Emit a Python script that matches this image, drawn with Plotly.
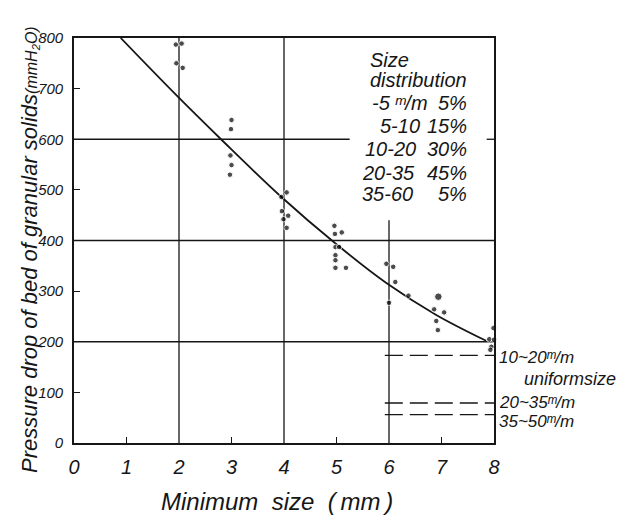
import plotly.graph_objects as go

# ---------------- data ----------------
min_size = [1.94, 2.05, 1.95, 2.07,
            3.00, 2.99, 2.98, 3.00, 2.97,
            3.95, 4.05, 3.96, 4.08, 3.99, 4.05,
            4.96, 4.97, 5.10, 4.98, 5.05, 4.98, 4.98, 4.98, 5.18,
            5.95, 6.08, 6.12, 6.00, 6.37,
            6.94, 6.86, 7.05, 6.90, 6.93,
            7.99, 7.91, 8.00, 7.95, 7.93, 8.05]
pressure_drop = [787, 789, 750, 741,
                 638, 620, 568, 549, 530,
                 486, 495, 458, 449, 442, 425,
                 429, 413, 416, 387, 387, 371, 361, 346, 346,
                 354, 348, 318, 277, 291,
                 289, 264, 258, 241, 223,
                 227, 205, 204, 190, 184, 180]

curve_x = [0.89, 1.94, 2.80, 3.94, 4.97, 5.95, 6.90, 7.85]
curve_y = [800, 688, 600, 487, 395, 316, 253, 202]

uniform_labels = ["10~20", "20~35", "35~50"]
uniform_values = [173, 79, 56]
uniform_from = 5.92
uniform_to = 8.0

dist_ranges = ["-5 \u1d50/m", "5-10", "10-20", "20-35", "35-60"]
dist_percent = ["5%", "15%", "30%", "45%", "5%"]

x_ticks = [0, 1, 2, 3, 4, 5, 6, 7, 8]
y_ticks = [0, 100, 200, 300, 400, 500, 600, 700, 800]

# guide lines (x0, y0, x1, y1)
guides = [(0, 200, 8, 200), (0, 400, 8, 400), (0, 600, 5.25, 600),
          (2, 0, 2, 800), (4, 0, 4, 800), (6, 0, 6, 440),
          (7.86, 600, 8, 600)]

# ---------------- layout helpers ----------------
# page has an 8px body margin: figure is drawn 8px down/right
OFF = 8
W, H = 641 - OFF, 518 - OFF
L, R, T, B = 74 - OFF, 494 - OFF, 38 - OFF, 443 - OFF
FONT = "Liberation Sans"
INK = "#161616"


def px(x):
    return (x - OFF - L) / (R - L)


def py(y):
    return (B - (y - OFF)) / (B - T)


fig = go.Figure()

fig.add_trace(go.Scatter(
    x=curve_x, y=curve_y, mode="lines",
    line=dict(color=INK, width=1.8, shape="spline", smoothing=1.0),
    hoverinfo="skip", showlegend=False, cliponaxis=False))

sizes = [5.5] * len(min_size)
sizes[29] = 7.5
fig.add_trace(go.Scatter(
    x=min_size, y=pressure_drop, mode="markers",
    marker=dict(color="#000000", size=sizes), showlegend=False, cliponaxis=False))

shapes = []
for (x0, y0, x1, y1) in guides:
    shapes.append(dict(type="line", xref="x", yref="y", x0=x0, y0=y0, x1=x1, y1=y1,
                       line=dict(color=INK, width=1.3), layer="below"))
for v in uniform_values:
    shapes.append(dict(type="line", xref="x", yref="y", x0=uniform_from, x1=uniform_to,
                       y0=v, y1=v, line=dict(color=INK, width=1.4, dash="18px,7px")))

annotations = []


def txt(s, x, y, size, anchor="left", angle=0):
    annotations.append(dict(text=s, x=px(x), y=py(y), xref="paper", yref="paper",
                            xanchor=anchor, yanchor="middle", showarrow=False,
                            textangle=angle,
                            font=dict(family=FONT, size=size, color=INK, style="italic")))


# size distribution table
txt("Size", 368, 60, 20)
txt("distribution", 368, 80, 20)
row_x = [370, 378, 363, 360, 360]
row_y = [103, 126, 149, 173, 194]
for i, (rng, pct) in enumerate(zip(dist_ranges, dist_percent)):
    txt(rng, row_x[i], row_y[i], 20)
    txt(pct, 469, row_y[i], 20, anchor="right")

# uniform size labels
lab_y = [357, 402, 421]
for i, lab in enumerate(uniform_labels):
    txt(lab + "\u1d50/m", 497, lab_y[i], 17)
txt("uniformsize", 522, 379, 18)

# axis titles
txt("Minimum\u00a0\u00a0size\u00a0\u00a0(\u2009mm\u2009)", 277, 501, 24, anchor="center")
txt("Pressure drop of bed of granular solids<span style='font-size:16px'>(mmH<sub>2</sub>O)</span>",
    29, 250, 22, anchor="center", angle=-90)

fig.update_layout(
    width=W, height=H,
    margin=dict(l=L, r=W - R, t=T, b=H - B),
    paper_bgcolor="white", plot_bgcolor="white",
    shapes=shapes, annotations=annotations,
    xaxis=dict(range=[0, 8], tickvals=x_ticks, ticktext=[str(v) for v in x_ticks],
               showgrid=False, zeroline=False, showline=True, mirror=True,
               linecolor=INK, linewidth=1.6, ticks="", ticklabelstandoff=5,
               tickfont=dict(family=FONT, size=20, color=INK, style="italic"),
               minor=dict(tickvals=[1, 3, 5, 7], ticks="inside", ticklen=6,
                          tickcolor=INK, tickwidth=1.3, showgrid=False)),
    yaxis=dict(range=[0, 800], tickvals=y_ticks, ticktext=[str(v) for v in y_ticks],
               showgrid=False, zeroline=False, showline=True, mirror=True,
               linecolor=INK, linewidth=1.6, ticks="", ticklabelstandoff=6,
               tickfont=dict(family=FONT, size=15, color=INK, style="italic"),
               minor=dict(tickvals=[100, 300, 500, 700], ticks="inside", ticklen=6,
                          tickcolor=INK, tickwidth=1.3, showgrid=False)),
)

fig.write_html("out.html")
